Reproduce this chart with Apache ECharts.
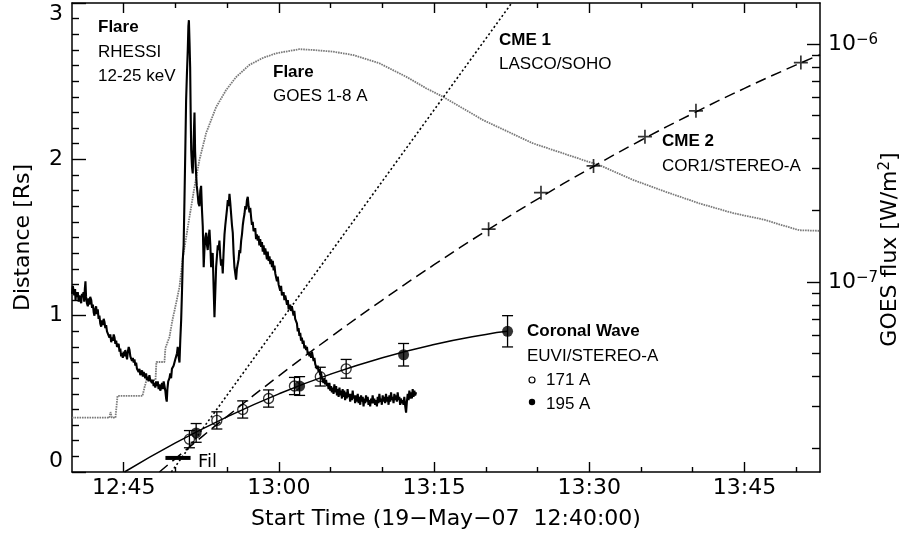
<!DOCTYPE html>
<html>
<head>
<meta charset="utf-8">
<script src="https://cdn.jsdelivr.net/npm/echarts/dist/echarts.min.js"></script>
<style>
html,body{margin:0;padding:0;background:#fff;}
#chart{width:910px;height:551px;}
</style>
</head>
<body>
<div id="chart"></div>
<script>
// ---- x axis: minutes after 12:40:00 on 19-May-07 ----
const xMin = 0, xMax = 72.3;
const timeLabelValues = [5, 20, 35, 50, 65];
const timeMinorValues = [10, 15, 25, 30, 40, 45, 55, 60, 70];

// ---- left axis (Distance, Rs) ----
const distMin = 0, distMax = 3;

// ---- right axis (GOES flux, W/m^2, log) ----
const goesMin = 1.59e-8, goesMax = 1.487e-6;
const goesMajorTicks = [1e-7, 1e-6];
const goesMinorTicks = [2e-8,3e-8,4e-8,5e-8,6e-8,7e-8,8e-8,9e-8,2e-7,3e-7,4e-7,5e-7,6e-7,7e-7,8e-7,9e-7];

// ---- GOES 1-8 A flux ----
const goesTime = [0,3.62,3.72,3.86,4.2,4.4,6.81,7.0,7.2,8.07,8.16,8.94,9.03,9.42,9.71,10.07,10.39,10.71,11.35,11.84,12.32,12.97,13.93,14.9,15.86,17.15,18.43,19.73,21.98,23.27,25.2,27.13,29.71,32.29,34.22,35.83,39.69,44.52,49.35,50.97,54.18,57.41,60.63,63.84,67.07,68.68,70.29,72.3];
const goesFlux = [2.69e-8,2.69e-8,2.84e-8,2.69e-8,2.69e-8,3.32e-8,3.32e-8,3.59e-8,3.87e-8,3.87e-8,4.61e-8,4.61e-8,5.28e-8,5.87e-8,6.92e-8,8.17e-8,9.53e-8,1.26e-7,1.87e-7,2.51e-7,3.26e-7,4.23e-7,5.43e-7,6.41e-7,7.26e-7,8.17e-7,8.73e-7,9.14e-7,9.51e-7,9.44e-7,9.29e-7,9.00e-7,8.30e-7,7.29e-7,6.52e-7,6.01e-7,4.80e-7,3.83e-7,3.26e-7,3.10e-7,2.69e-7,2.39e-7,2.14e-7,1.95e-7,1.82e-7,1.73e-7,1.65e-7,1.64e-7];

// ---- RHESSI 12-25 keV (arbitrary units, drawn on distance scale) [t, value] ----
const rhessi = [[0.00,1.14],[0.08,1.19],[0.14,1.20],[0.22,1.13],[0.30,1.17],[0.34,1.10],[0.42,1.15],[0.50,1.12],[0.56,1.15],[0.64,1.09],[0.72,1.13],[0.80,1.10],[0.89,1.08],[0.96,1.14],[1.04,1.12],[1.11,1.15],[1.18,1.09],[1.24,1.17],[1.30,1.22],[1.36,1.12],[1.44,1.08],[1.53,1.06],[1.60,1.11],[1.68,1.07],[1.76,1.12],[1.86,1.10],[1.94,1.05],[2.02,1.07],[2.10,1.02],[2.17,1.00],[2.25,1.04],[2.33,1.06],[2.41,1.01],[2.49,1.04],[2.57,0.98],[2.65,1.00],[2.73,0.95],[2.82,0.93],[2.90,0.97],[2.98,0.94],[3.06,0.98],[3.14,0.96],[3.22,0.92],[3.30,0.94],[3.38,0.90],[3.46,0.89],[3.54,0.91],[3.62,0.86],[3.70,0.88],[3.79,0.83],[3.87,0.86],[3.95,0.84],[4.03,0.88],[4.11,0.86],[4.19,0.82],[4.27,0.84],[4.35,0.80],[4.43,0.79],[4.51,0.82],[4.59,0.77],[4.67,0.79],[4.75,0.74],[4.83,0.76],[4.91,0.73],[4.99,0.77],[5.07,0.74],[5.15,0.78],[5.24,0.75],[5.32,0.72],[5.40,0.77],[5.48,0.80],[5.56,0.78],[5.64,0.74],[5.72,0.74],[5.80,0.71],[5.88,0.73],[5.96,0.70],[6.04,0.72],[6.12,0.68],[6.20,0.70],[6.28,0.66],[6.36,0.67],[6.44,0.64],[6.52,0.66],[6.60,0.62],[6.69,0.62],[6.77,0.65],[6.85,0.61],[6.93,0.64],[7.00,0.64],[7.08,0.60],[7.16,0.63],[7.24,0.59],[7.32,0.61],[7.40,0.58],[7.48,0.62],[7.56,0.59],[7.65,0.60],[7.73,0.57],[7.81,0.59],[7.89,0.55],[7.97,0.57],[8.05,0.54],[8.13,0.58],[8.21,0.55],[8.29,0.58],[8.37,0.53],[8.45,0.56],[8.53,0.52],[8.62,0.54],[8.70,0.57],[8.78,0.53],[8.86,0.58],[8.94,0.58],[9.02,0.52],[9.10,0.47],[9.16,0.45],[9.22,0.53],[9.30,0.58],[9.42,0.60],[9.50,0.63],[9.58,0.60],[9.66,0.66],[9.74,0.65],[9.82,0.68],[9.90,0.67],[9.98,0.72],[10.07,0.72],[10.15,0.76],[10.22,0.80],[10.30,0.74],[10.39,0.70],[10.47,0.85],[10.55,0.97],[10.63,1.15],[10.71,1.36],[10.79,1.45],[10.87,1.74],[10.95,2.05],[11.03,2.38],[11.11,2.55],[11.19,2.70],[11.25,2.85],[11.30,2.89],[11.36,2.75],[11.42,2.59],[11.47,2.30],[11.52,2.06],[11.60,1.95],[11.67,1.91],[11.75,2.10],[11.84,2.30],[11.90,2.05],[11.96,1.95],[12.06,1.83],[12.14,1.78],[12.22,1.72],[12.32,1.70],[12.40,1.80],[12.48,1.83],[12.56,1.68],[12.64,1.57],[12.70,1.40],[12.73,1.31],[12.80,1.42],[12.88,1.50],[12.97,1.53],[13.05,1.45],[13.12,1.42],[13.20,1.50],[13.29,1.55],[13.37,1.45],[13.45,1.31],[13.52,1.38],[13.60,1.40],[13.68,1.20],[13.77,0.99],[13.85,1.15],[13.93,1.31],[14.01,1.38],[14.09,1.45],[14.17,1.42],[14.25,1.48],[14.33,1.38],[14.41,1.32],[14.49,1.36],[14.57,1.27],[14.65,1.40],[14.74,1.52],[14.82,1.58],[14.90,1.63],[14.98,1.68],[15.06,1.74],[15.14,1.70],[15.22,1.78],[15.30,1.72],[15.38,1.65],[15.46,1.58],[15.54,1.53],[15.62,1.40],[15.70,1.31],[15.78,1.27],[15.86,1.23],[15.94,1.30],[16.02,1.31],[16.10,1.36],[16.18,1.42],[16.26,1.40],[16.35,1.48],[16.43,1.52],[16.51,1.58],[16.59,1.62],[16.67,1.65],[16.75,1.70],[16.83,1.68],[16.91,1.74],[16.99,1.76],[17.07,1.70],[17.15,1.66],[17.23,1.69],[17.31,1.63],[17.39,1.58],[17.47,1.60],[17.55,1.54],[17.63,1.53],[17.71,1.56],[17.79,1.49],[17.87,1.52],[17.95,1.48],[18.03,1.51],[18.11,1.45],[18.19,1.49],[18.28,1.44],[18.36,1.47],[18.44,1.41],[18.52,1.45],[18.60,1.39],[18.68,1.43],[18.76,1.40],[18.84,1.36],[18.92,1.41],[19.00,1.35],[19.09,1.38],[19.17,1.33],[19.25,1.36],[19.33,1.31],[19.41,1.35],[19.49,1.29],[19.57,1.32],[19.65,1.27],[19.73,1.27],[19.81,1.22],[19.89,1.25],[19.97,1.20],[20.05,1.20],[20.13,1.16],[20.21,1.19],[20.29,1.13],[20.37,1.12],[20.45,1.15],[20.53,1.10],[20.61,1.13],[20.70,1.10],[20.78,1.07],[20.86,1.10],[20.94,1.04],[21.01,1.04],[21.09,1.07],[21.17,1.03],[21.25,1.06],[21.33,1.06],[21.41,1.00],[21.49,1.03],[21.57,0.98],[21.66,0.99],[21.74,0.95],[21.82,0.90],[21.90,0.92],[21.98,0.87],[22.06,0.89],[22.14,0.84],[22.22,0.86],[22.30,0.82],[22.38,0.84],[22.46,0.79],[22.55,0.81],[22.63,0.78],[22.71,0.80],[22.79,0.75],[22.87,0.77],[22.95,0.74],[23.03,0.76],[23.11,0.73],[23.19,0.77],[23.27,0.76],[23.35,0.71],[23.43,0.73],[23.51,0.69],[23.59,0.70],[23.67,0.66],[23.75,0.68],[23.83,0.64],[23.91,0.66],[23.99,0.62],[24.07,0.64],[24.15,0.60],[24.23,0.61],[24.31,0.57],[24.39,0.60],[24.47,0.56],[24.56,0.59],[24.64,0.55],[24.72,0.57],[24.80,0.53],[24.88,0.57],[24.96,0.52],[25.04,0.55],[25.12,0.51],[25.20,0.54],[25.28,0.50],[25.36,0.56],[25.44,0.51],[25.53,0.55],[25.61,0.49],[25.69,0.53],[25.77,0.48],[25.85,0.54],[25.93,0.49],[26.01,0.52],[26.09,0.47],[26.16,0.53],[26.24,0.48],[26.32,0.52],[26.40,0.46],[26.48,0.51],[26.56,0.47],[26.64,0.53],[26.72,0.48],[26.81,0.50],[26.89,0.45],[26.97,0.50],[27.05,0.46],[27.13,0.52],[27.21,0.47],[27.29,0.49],[27.37,0.44],[27.46,0.49],[27.54,0.45],[27.62,0.50],[27.70,0.44],[27.78,0.48],[27.86,0.43],[27.94,0.49],[28.02,0.45],[28.10,0.48],[28.18,0.42],[28.26,0.47],[28.34,0.44],[28.42,0.49],[28.50,0.45],[28.58,0.48],[28.66,0.43],[28.74,0.46],[28.82,0.42],[28.90,0.47],[28.98,0.44],[29.06,0.49],[29.14,0.44],[29.22,0.47],[29.30,0.43],[29.39,0.46],[29.47,0.42],[29.55,0.48],[29.63,0.44],[29.71,0.50],[29.79,0.45],[29.87,0.47],[29.95,0.43],[30.03,0.49],[30.11,0.45],[30.19,0.48],[30.27,0.44],[30.35,0.50],[30.43,0.45],[30.52,0.48],[30.60,0.43],[30.68,0.49],[30.76,0.45],[30.84,0.51],[30.92,0.46],[31.00,0.48],[31.08,0.44],[31.16,0.50],[31.24,0.46],[31.32,0.49],[31.40,0.45],[31.48,0.51],[31.56,0.46],[31.64,0.48],[31.72,0.43],[31.80,0.47],[31.88,0.44],[31.96,0.46],[32.04,0.43],[32.12,0.48],[32.21,0.42],[32.29,0.38],[32.37,0.45],[32.45,0.50],[32.53,0.46],[32.61,0.52],[32.69,0.47],[32.77,0.51],[32.85,0.47],[32.93,0.53],[33.01,0.48],[33.09,0.52],[33.17,0.49],[33.26,0.51]];

// ---- CME 1 (LASCO/SOHO) height-time line ----
const cme1Line = [[9.6, 0], [42.5, 3.0]];

// ---- CME 2 (COR1/STEREO-A) measurements and fit ----
const cme2Points = [[40.27,1.553],[45.33,1.787],[50.41,1.958],[55.38,2.145],[60.31,2.310],[70.45,2.619]];
const cme2Fit = [[8.45,0],[10,0.086],[15,0.356],[20,0.615],[25,0.863],[30,1.10],[35,1.326],[40,1.541],[45,1.746],[50,1.939],[55,2.122],[60,2.293],[65,2.454],[70,2.604],[72.3,2.669]];

// ---- Coronal wave (EUVI/STEREO-A) [t, distance, error] ----
const wave171 = [[11.35,0.21,0.055],[14.0,0.33,0.055],[16.5,0.40,0.055],[19.0,0.47,0.055],[21.5,0.55,0.055],[24.0,0.61,0.06],[26.5,0.66,0.06]];
const wave195 = [[12.0,0.25,0.06],[22.0,0.55,0.06],[32.05,0.75,0.072],[42.1,0.90,0.10]];
const waveFit = [[5.07,0],[10,0.186],[15,0.353],[20,0.50],[25,0.626],[30,0.731],[35,0.815],[40,0.88],[42.1,0.90]];

// ---- Filament eruption bar ----
const filBar = [[9.03,0.09],[11.46,0.09]];

const AX_FONT = '"DejaVu Sans", sans-serif';
const TX_FONT = '"Liberation Sans", Arial, sans-serif';

function fmtTime(v){
  const tot = 40 + v;
  const h = 12 + Math.floor(tot/60);
  const m = Math.round(tot % 60);
  return h + ':' + (m < 10 ? '0' + m : m);
}

function errorBarRenderer(params, api){
  const x = api.value(0), y = api.value(1), e = api.value(2);
  const top = api.coord([x, y + e]);
  const bot = api.coord([x, y - e]);
  const hw = 5.5;
  const st = {stroke:'#000', lineWidth:1.3};
  return {type:'group', children:[
    {type:'line', shape:{x1:top[0], y1:top[1], x2:bot[0], y2:bot[1]}, style:st},
    {type:'line', shape:{x1:top[0]-hw, y1:top[1], x2:top[0]+hw, y2:top[1]}, style:st},
    {type:'line', shape:{x1:bot[0]-hw, y1:bot[1], x2:bot[0]+hw, y2:bot[1]}, style:st}
  ]};
}

const chart = echarts.init(document.getElementById('chart'), null, {renderer:'canvas'});
const lg = v => Math.log10(v);

const axisLine = {show:true, onZero:false, lineStyle:{color:'#000', width:1.5}};
const noLine = {show:false, onZero:false};
const tickStyle = {color:'#000', width:1.4};

const option = {
  animation:false,
  backgroundColor:'#fff',
  grid:{left:72, right:90, top:3, bottom:79, containLabel:false, outerBoundsMode:'none'},
  xAxis:[
    {type:'value', min:xMin, max:xMax, interval:5, position:'bottom',
     axisLine:axisLine,
     axisTick:{show:true, inside:true, length:5, customValues:timeMinorValues, lineStyle:tickStyle},
     axisLabel:{show:true, customValues:timeLabelValues, formatter:fmtTime, fontFamily:AX_FONT, fontSize:22, color:'#000', margin:5},
     splitLine:{show:false},
     name:'Start Time (19\u2212May\u221207  12:40:00)', nameLocation:'middle', nameGap:36, nameMoveOverlap:false,
     nameTextStyle:{fontFamily:AX_FONT, fontSize:22, color:'#000'}},
    {type:'value', min:xMin, max:xMax, position:'bottom',
     axisLine:noLine,
     axisTick:{show:true, inside:true, length:10, customValues:timeLabelValues, lineStyle:tickStyle},
     axisLabel:{show:false}, splitLine:{show:false}},
    {type:'value', min:xMin, max:xMax, position:'top',
     axisLine:axisLine,
     axisTick:{show:true, inside:true, length:5, customValues:timeMinorValues, lineStyle:tickStyle},
     axisLabel:{show:false}, splitLine:{show:false}},
    {type:'value', min:xMin, max:xMax, position:'top',
     axisLine:noLine,
     axisTick:{show:true, inside:true, length:10, customValues:timeLabelValues, lineStyle:tickStyle},
     axisLabel:{show:false}, splitLine:{show:false}}
  ],
  yAxis:[
    {type:'value', min:distMin, max:distMax, interval:1, position:'left',
     axisLine:axisLine,
     axisTick:{show:true, inside:true, length:14, lineStyle:tickStyle},
     minorTick:{show:true, splitNumber:10, length:7, lineStyle:tickStyle},
     axisLabel:{fontFamily:AX_FONT, fontSize:22, color:'#000', margin:9,
       verticalAlignMinLabel:'bottom', verticalAlignMaxLabel:'top'},
     splitLine:{show:false}, minorSplitLine:{show:false},
     name:'Distance [Rs]', nameLocation:'middle', nameGap:38, nameRotate:90, nameMoveOverlap:false,
     nameTextStyle:{fontFamily:AX_FONT, fontSize:22, color:'#000'}},
    {type:'log', min:goesMin, max:goesMax, position:'right', show:false, axisLine:noLine},
    {type:'value', min:lg(goesMin), max:lg(goesMax), position:'right',
     axisLine:axisLine,
     axisTick:{show:true, inside:true, length:8, customValues:goesMinorTicks.map(lg), lineStyle:tickStyle},
     axisLabel:{show:true, customValues:goesMajorTicks.map(lg), margin:8,
       formatter: v => '{b|10}{sup|\u2212' + Math.round(-v) + '}',
       rich:{
         b:{fontFamily:AX_FONT, fontSize:22, color:'#000', lineHeight:22, verticalAlign:'bottom'},
         sup:{fontFamily:AX_FONT, fontSize:15, color:'#000', lineHeight:15, verticalAlign:'top', padding:[0,0,13,0]}
       }},
     splitLine:{show:false},
     name:'GOES flux [W/m{sup|2}]', nameLocation:'middle', nameGap:58, nameRotate:90, nameMoveOverlap:false,
     nameTextStyle:{fontFamily:AX_FONT, fontSize:22, color:'#000', padding:[0,24,0,0],
       rich:{sup:{fontFamily:AX_FONT, fontSize:15, color:'#000', verticalAlign:'top', padding:[0,0,10,0]}}}},
    {type:'value', min:lg(goesMin), max:lg(goesMax), position:'right',
     axisLine:noLine,
     axisTick:{show:true, inside:true, length:13, customValues:goesMajorTicks.map(lg), lineStyle:tickStyle},
     axisLabel:{show:false}, splitLine:{show:false}}
  ],
  series:[
    {name:'GOES', type:'line', xAxisIndex:0, yAxisIndex:1, showSymbol:false, symbol:'none',
     data:goesTime.map((t,i)=>[t, goesFlux[i]]),
     lineStyle:{color:'#7a7a7a', width:1.8, type:[1.6,0.9]}, z:1},
    {name:'RHESSI', type:'line', xAxisIndex:0, yAxisIndex:0, symbol:'none', data:rhessi,
     lineStyle:{color:'#000', width:2.1}, z:2},
    {name:'CME1', type:'line', symbol:'none', data:cme1Line,
     lineStyle:{color:'#000', width:1.6, type:[2,2.5]}, z:3},
    {name:'CME2 fit', type:'line', symbol:'none', smooth:true, data:cme2Fit,
     lineStyle:{color:'#000', width:1.5, type:[11,6]}, z:3},
    {name:'CME2', type:'scatter', data:cme2Points, symbolSize:14,
     symbol:'path://M0,4.4H10V5.6H0Z M4.4,0H5.6V10H4.4Z',
     itemStyle:{color:'#000'}, z:4},
    {name:'Wave fit', type:'line', symbol:'none', smooth:true, data:waveFit,
     lineStyle:{color:'#000', width:1.5}, z:3},
    {name:'err171', type:'custom', renderItem:errorBarRenderer, data:wave171, encode:{x:0, y:1}, z:4},
    {name:'err195', type:'custom', renderItem:errorBarRenderer, data:wave195, encode:{x:0, y:1}, z:4},
    {name:'171 A', type:'scatter', data:wave171.map(p=>[p[0],p[1]]), symbol:'circle', symbolSize:10,
     itemStyle:{color:'rgba(0,0,0,0)', borderColor:'#000', borderWidth:1.3}, z:5},
    {name:'195 A', type:'scatter', data:wave195.map(p=>[p[0],p[1]]), symbol:'circle', symbolSize:11,
     itemStyle:{color:'#000'}, z:5},
    {name:'Fil', type:'line', symbol:'none', data:filBar,
     lineStyle:{color:'#000', width:4, cap:'butt'}, z:5}
  ],
  graphic:[
    {type:'text', x:98, y:27, style:{text:'Flare', font:'bold 17px ' + TX_FONT, fill:'#000', verticalAlign:'middle'}},
    {type:'text', x:98, y:52, style:{text:'RHESSI', font:'17px ' + TX_FONT, fill:'#000', verticalAlign:'middle'}},
    {type:'text', x:98, y:76, style:{text:'12-25 keV', font:'17px ' + TX_FONT, fill:'#000', verticalAlign:'middle'}},
    {type:'text', x:273, y:72, style:{text:'Flare', font:'bold 17px ' + TX_FONT, fill:'#000', verticalAlign:'middle'}},
    {type:'text', x:273, y:96, style:{text:'GOES 1-8 A', font:'17px ' + TX_FONT, fill:'#000', verticalAlign:'middle'}},
    {type:'text', x:499, y:40, style:{text:'CME 1', font:'bold 17px ' + TX_FONT, fill:'#000', verticalAlign:'middle'}},
    {type:'text', x:499, y:64, style:{text:'LASCO/SOHO', font:'17px ' + TX_FONT, fill:'#000', verticalAlign:'middle'}},
    {type:'text', x:662, y:141, style:{text:'CME 2', font:'bold 17px ' + TX_FONT, fill:'#000', verticalAlign:'middle'}},
    {type:'text', x:662, y:166, style:{text:'COR1/STEREO-A', font:'17px ' + TX_FONT, fill:'#000', verticalAlign:'middle'}},
    {type:'text', x:527, y:331, style:{text:'Coronal Wave', font:'bold 17px ' + TX_FONT, fill:'#000', verticalAlign:'middle'}},
    {type:'text', x:527, y:356, style:{text:'EUVI/STEREO-A', font:'17px ' + TX_FONT, fill:'#000', verticalAlign:'middle'}},
    {type:'circle', shape:{cx:532, cy:380, r:3}, style:{fill:'none', stroke:'#000', lineWidth:1.2}},
    {type:'text', x:546, y:380, style:{text:'171 A', font:'17px ' + TX_FONT, fill:'#000', verticalAlign:'middle'}},
    {type:'circle', shape:{cx:532, cy:402, r:3.2}, style:{fill:'#000'}},
    {type:'text', x:546, y:404, style:{text:'195 A', font:'17px ' + TX_FONT, fill:'#000', verticalAlign:'middle'}},
    {type:'text', x:198, y:462, style:{text:'Fil', font:'18px ' + AX_FONT, fill:'#000', verticalAlign:'middle'}}
  ]
};
chart.setOption(option);
</script>
</body>
</html>
